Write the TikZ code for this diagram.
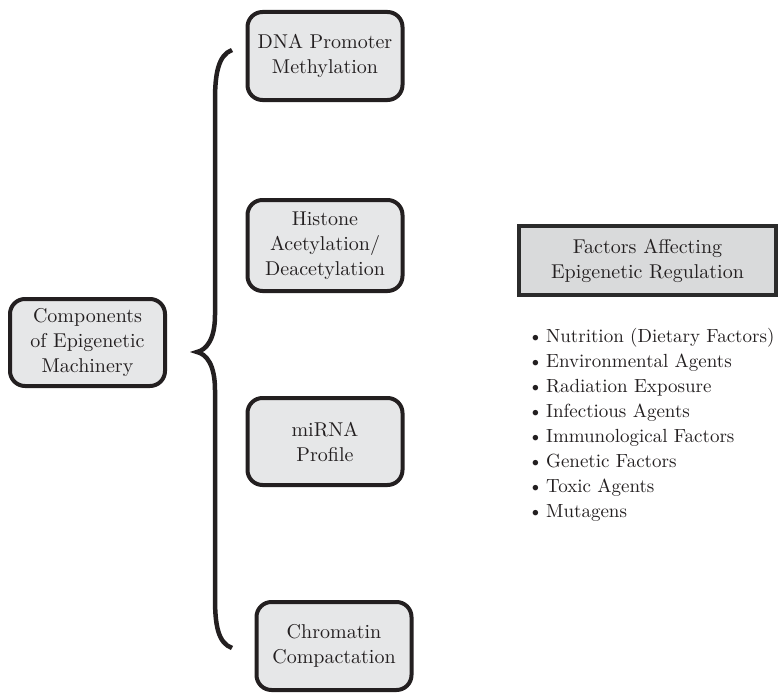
\documentclass[tikz,border=0pt]{standalone}
\usepackage{fontspec}
\setmainfont{lmroman10-regular.otf}
\definecolor{boxfill}{HTML}{E6E7E8}
\definecolor{factfill}{HTML}{D9DADB}
\definecolor{ink}{HTML}{231F20}
\definecolor{factborder}{HTML}{2B2B2B}
\begin{document}
\begin{tikzpicture}[x=1pt,y=-1pt,
  every node/.style={text=ink,font=\fontsize{20}{25}\selectfont},
  rbox/.style={draw=ink,fill=boxfill,line width=4pt,rounded corners=15pt,
    minimum width=155pt,align=center,inner sep=0pt},
  factbox/.style={draw=factborder,fill=factfill,line width=4pt,
    minimum width=257pt,minimum height=69pt,align=center,inner sep=0pt},
  listtext/.style={anchor=west,align=left,inner sep=0pt,font=\fontsize{19}{25}\selectfont},
  bracestyle/.style={draw=ink,line width=4.5pt,line cap=butt}]
\useasboundingbox (0,0) rectangle (779,693);
\node[rbox,minimum height=87pt] (comp) at (87.5,342.5) {Components\\of Epigenetic\\Machinery};
\node[rbox,minimum height=88pt] (dna) at (325,56) {DNA Promoter\\Methylation};
\node[rbox,minimum height=91pt] (hist) at (325,245.5) {Histone\\Acetylation/\\Deacetylation};
\node[rbox,minimum height=87pt] (mirna) at (325,441.5) {miRNA\\Profile};
\node[rbox,minimum height=88pt] (chrom) at (334,646) {Chromatin\\Compactation};
\node[factbox] (fact) at (647.5,260.5) {Factors Affecting\\Epigenetic Regulation};
\node[listtext] (list) at (528,425) {%
\textbullet\,Nutrition (Dietary Factors)\\
\textbullet\,Environmental Agents\\
\textbullet\,Radiation Exposure\\
\textbullet\,Infectious Agents\\
\textbullet\,Immunological Factors\\
\textbullet\,Genetic Factors\\
\textbullet\,Toxic Agents\\
\textbullet\,Mutagens};
\coordinate (btop) at (232,50);
\coordinate (btip) at (197,352);
\coordinate (bbot) at (232,648);
\draw[bracestyle] (btop) .. controls (218,55) and (215,75) .. (215,100)
  -- (215,315) .. controls (215,340) and (206,350) .. (btip)
  .. controls (206,354) and (215,364) .. (215,390)
  -- (215,598) .. controls (215,625) and (218,643) .. (bbot);
\end{tikzpicture}
\end{document}
